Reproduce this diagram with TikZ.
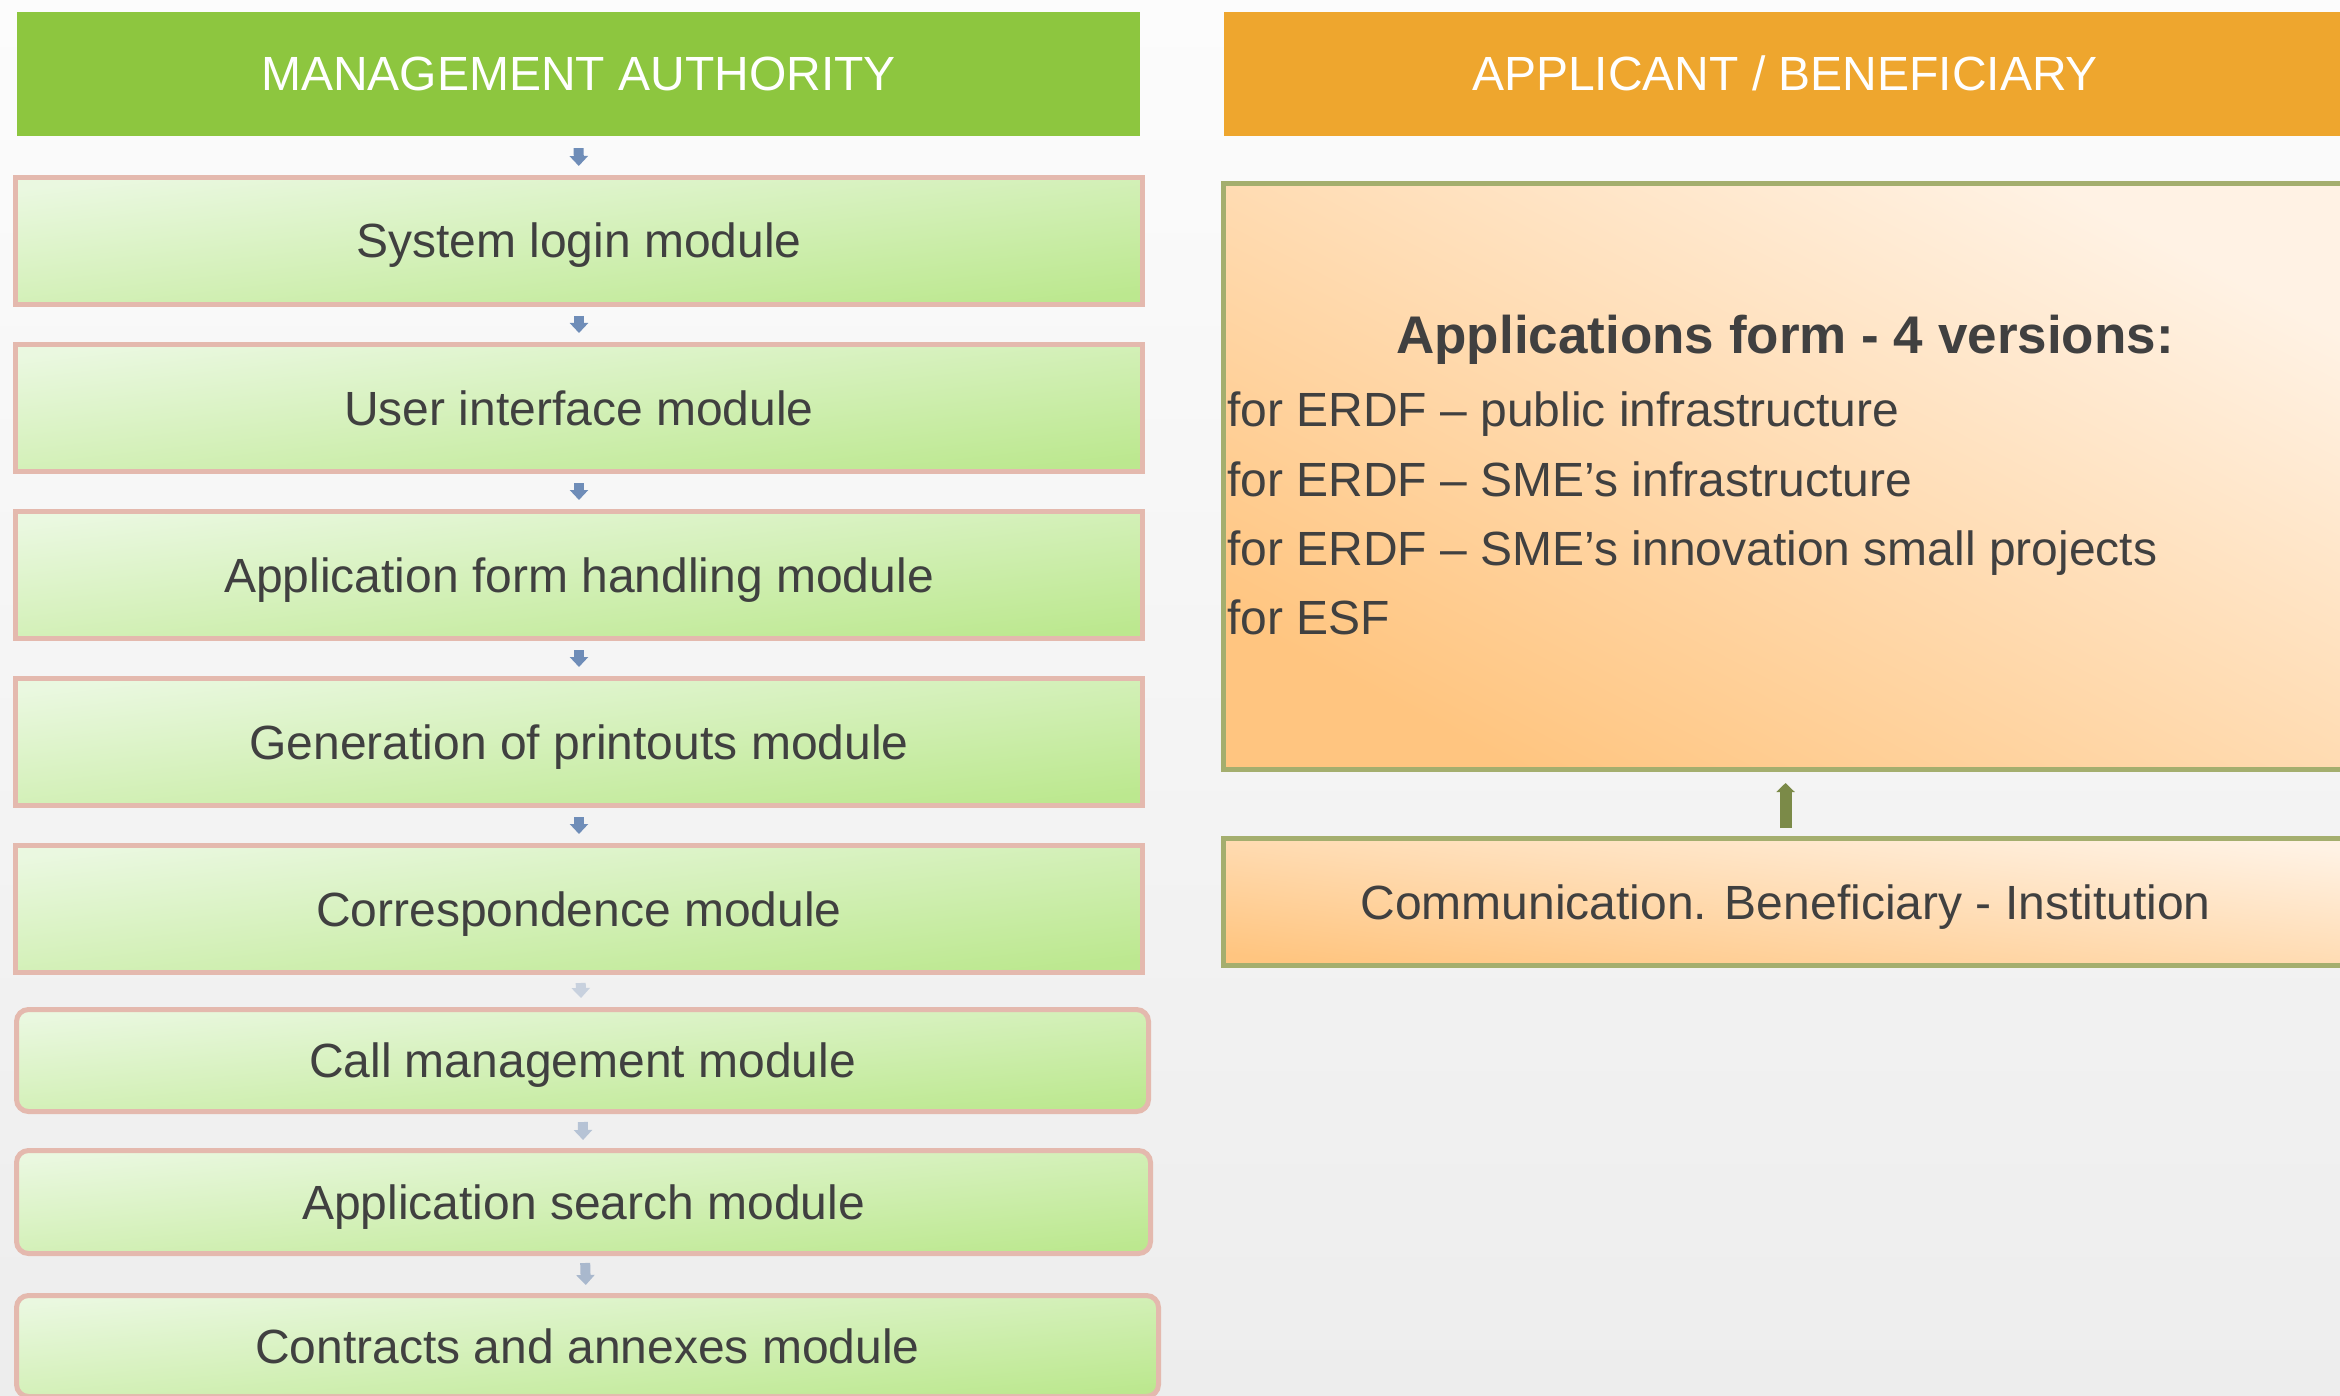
\documentclass[tikz,border=0pt]{standalone}
\usepackage{fontspec}
\setmainfont{Liberation Sans}
\usetikzlibrary{arrows.meta}
\definecolor{bgtop}{HTML}{FCFCFC}
\definecolor{bgbot}{HTML}{EDEDED}
\definecolor{hgreen}{HTML}{8DC63F}
\definecolor{horange}{HTML}{EEA62E}
\definecolor{txt}{HTML}{404040}
\definecolor{gtop}{HTML}{EAF8E0}
\definecolor{gbot}{HTML}{BCE88F}
\definecolor{pinkb}{HTML}{E4B9AE}
\definecolor{otop}{HTML}{FFF2E4}
\definecolor{obot}{HTML}{FFC580}
\definecolor{oliveb}{HTML}{A4AE6E}
\definecolor{olivearr}{HTML}{7B8A48}
\definecolor{arrblue}{HTML}{6F8DB8}
\definecolor{arrpale}{HTML}{C8D1DE}
\definecolor{arrlight}{HTML}{B6C3D5}
\definecolor{arrmid}{HTML}{A9B8CD}
\begin{document}
\begin{tikzpicture}[x=1pt,y=-1pt,
  hdr/.style={inner sep=0pt, text=white, font=\fontsize{48}{56}\selectfont,
    minimum height=124pt, text height=34pt, text depth=0pt},
  modbox/.style={draw=pinkb, line width=5pt, top color=gtop, bottom color=gbot,
    shading angle=6.5, minimum width=1127pt, minimum height=127pt, inner sep=0pt,
    text=txt, font=\fontsize{48}{56}\selectfont, text height=34pt, text depth=0pt},
  rmodbox/.style={modbox, rounded corners=12pt, minimum height=102pt, shading angle=5.3},
  obox/.style={draw=oliveb, line width=5pt, top color=otop, bottom color=obot,
    shading angle=-6.5, minimum width=1124pt, inner sep=0pt, text=txt,
    font=\fontsize{48}{56}\selectfont, text height=34pt, text depth=0pt},
  ltext/.style={inner sep=0pt, text=txt, font=\fontsize{48}{56}\selectfont, anchor=base west},
  flow/.style={line width=10pt, -{Triangle[width=18pt,length=10pt]},
    shorten <=9pt, shorten >=9pt}
]
\useasboundingbox (0,0) rectangle (2340,1396);
\clip (0,0) rectangle (2340,1396);
\shade[top color=bgtop, bottom color=bgbot] (0,0) rectangle (2340,1396);

% headers
\node[hdr, fill=hgreen, minimum width=1123pt] (ma) at (578.5,74) {MANAGEMENT AUTHORITY};
\node[hdr, fill=horange, minimum width=1122pt] (ab) at (1785,74) {APPLICANT / BENEFICIARY};

% left column
\node[modbox] (b1) at (579,241) {System login module};
\node[modbox] (b2) at (579,408) {User interface module};
\node[modbox] (b3) at (579,575) {Application form handling module};
\node[modbox] (b4) at (579,742) {Generation of printouts module};
\node[modbox] (b5) at (579,909) {Correspondence module};
\node[rmodbox, minimum width=1132pt] (call) at (582.5,1060.5) {Call management module};
\node[rmodbox, minimum width=1134pt, minimum height=103pt] (search) at (583.5,1202) {Application search module};
\node[rmodbox, minimum width=1142pt, minimum height=101pt] (contr) at (587.5,1346) {Contracts and annexes module};

\draw[flow, arrblue, shorten <=12pt] (ma) -- (b1);
\draw[flow, arrblue] (b1) -- (b2);
\draw[flow, arrblue] (b2) -- (b3);
\draw[flow, arrblue] (b3) -- (b4);
\draw[flow, arrblue] (b4) -- (b5);
\draw[flow, arrpale, shorten <=8pt] (b5) -- (call);
\draw[flow, arrlight, shorten <=8pt, shorten >=8pt] (call) -- (search);
\draw[flow, arrmid, shorten <=7pt, shorten >=8pt] (search) -- (contr);

% right column
\node[obox, minimum height=586pt, shading angle=-27.5] (apps) at (1785.5,476.5) {};
\node[inner sep=0pt, text=txt, font=\fontsize{53}{60}\selectfont\bfseries, anchor=base] (title) at (1785,354) {Applications form - 4 versions:};
\node[ltext] (l1) at (1227,427) {for ERDF – public infrastructure};
\node[ltext] (l2) at (1227,496) {for ERDF – SME’s infrastructure};
\node[ltext] (l3) at (1227,565) {for ERDF – SME’s innovation small projects};
\node[ltext] (l4) at (1227,634) {for ESF};

\node[obox, minimum height=127pt] (comm) at (1785.5,902) {Communication. Beneficiary - Institution};
\draw[line width=12pt, olivearr, -{Triangle[width=18pt,length=9pt]},
  shorten <=8pt, shorten >=11pt] (comm) -- (apps);
\end{tikzpicture}
\end{document}
